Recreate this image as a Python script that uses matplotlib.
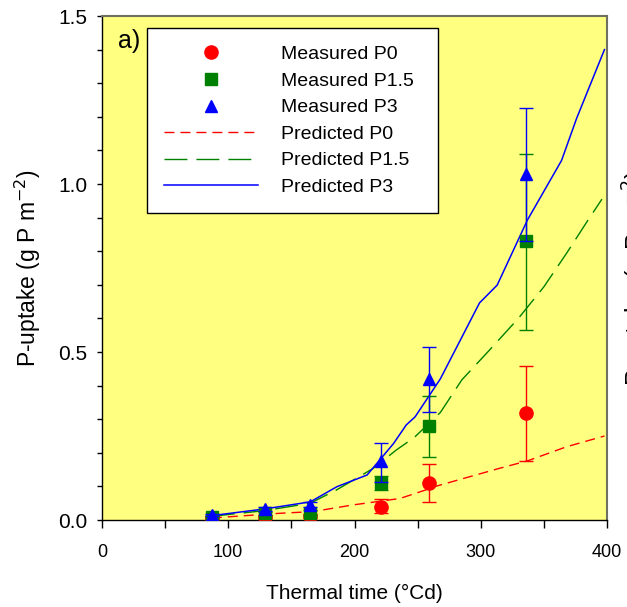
import matplotlib
matplotlib.use("Agg")
import matplotlib.pyplot as plt
from matplotlib.lines import Line2D
from matplotlib.ticker import MultipleLocator, FormatStrFormatter

plt.rcParams['font.family'] = ['Liberation Sans', 'DejaVu Sans']

# Measured data
meas_x = [87, 129, 165, 221, 259, 336]
p0_y = [0.006, 0.008, 0.012, 0.040, 0.110, 0.319]
p0_lo = [0.004, 0.004, 0.006, 0.021, 0.054, 0.176]
p0_hi = [0.008, 0.012, 0.018, 0.063, 0.166, 0.458]
p15_y = [0.010, 0.020, 0.022, 0.110, 0.280, 0.830]
p15_lo = [0.007, 0.015, 0.015, 0.090, 0.188, 0.565]
p15_hi = [0.013, 0.025, 0.030, 0.130, 0.370, 1.090]
p3_y = [0.015, 0.033, 0.045, 0.175, 0.420, 1.030]
p3_lo = [0.011, 0.027, 0.038, 0.113, 0.320, 0.830]
p3_hi = [0.019, 0.039, 0.055, 0.230, 0.515, 1.225]

# Predicted curves
pred0_x = [87, 141, 167, 199, 236, 256, 265, 315, 337, 368, 398]
pred0_y = [0.006, 0.020, 0.025, 0.045, 0.064, 0.089, 0.101, 0.154, 0.176, 0.218, 0.250]
pred15_x = [87, 129, 165, 186, 215, 233, 241, 248, 268, 285, 307, 330, 350, 368, 384, 396]
pred15_y = [0.011, 0.028, 0.050, 0.090, 0.154, 0.208, 0.229, 0.248, 0.320, 0.417, 0.506, 0.601, 0.694, 0.794, 0.887, 0.955]
pred3_x = [87, 129, 165, 186, 210, 231, 241, 248, 268, 299, 313, 337, 364, 376, 398]
pred3_y = [0.013, 0.033, 0.054, 0.099, 0.134, 0.228, 0.283, 0.307, 0.420, 0.646, 0.699, 0.893, 1.070, 1.196, 1.400]

labels = ['Measured P0', 'Measured P1.5', 'Measured P3',
          'Predicted P0', 'Predicted P1.5', 'Predicted P3']

RED, GREEN, BLUE = '#FF0000', '#008000', '#0000FF'
DASH0, DASH15 = (7.2, 4.3), (16.5, 6.5)

fig = plt.figure(figsize=(6.27, 6.07), dpi=100)
ax = fig.add_axes([102/627, 87/607, 505/627, 504/607])
ax.set_facecolor('#FFFF80')

ax.plot(pred0_x, pred0_y, color=RED, lw=1.0, dashes=DASH0, zorder=2)
ax.plot(pred15_x, pred15_y, color=GREEN, lw=1.0, dashes=DASH15, zorder=2)
ax.plot(pred3_x, pred3_y, color=BLUE, lw=1.1, zorder=2)

def err(y, lo, hi):
    return [[a - b for a, b in zip(y, lo)], [c - a for a, c in zip(y, hi)]]

ax.errorbar(meas_x, p0_y, yerr=err(p0_y, p0_lo, p0_hi), fmt='o', color=RED, ms=9.5,
            capsize=4.7, elinewidth=1, capthick=1, zorder=3)
ax.errorbar(meas_x, p15_y, yerr=err(p15_y, p15_lo, p15_hi), fmt='s', color=GREEN, ms=8,
            capsize=4.7, elinewidth=1, capthick=1, zorder=4)
ax.errorbar(meas_x, p3_y, yerr=err(p3_y, p3_lo, p3_hi), fmt='^', color=BLUE, ms=9,
            capsize=4.7, elinewidth=1, capthick=1, zorder=5)

ax.set_xlim(0, 400)
ax.set_ylim(0, 1.5)
ax.xaxis.set_major_locator(MultipleLocator(100))
ax.xaxis.set_minor_locator(MultipleLocator(50))
ax.yaxis.set_major_locator(MultipleLocator(0.5))
ax.yaxis.set_minor_locator(MultipleLocator(0.1))
ax.yaxis.set_major_formatter(FormatStrFormatter('%.1f'))
ax.tick_params(which='both', direction='out', top=False, right=False, width=1)
ax.tick_params(axis='x', which='both', length=5.5, labelsize=13, pad=12)
ax.tick_params(axis='y', which='both', length=3.6, labelsize=15, pad=7)
for s in ['left', 'bottom']:
    ax.spines[s].set_color('black')
    ax.spines[s].set_linewidth(1)
for s in ['top', 'right']:
    ax.spines[s].set_color('#707060')
    ax.spines[s].set_linewidth(1.5)

ax.set_xlabel('Thermal time (°Cd)', fontsize=15, labelpad=16)
ax.set_ylabel('P-uptake (g P m$^{-2}$)', fontsize=16.5, labelpad=11)

ax.text(0.032, 0.950, 'a)', transform=ax.transAxes, fontsize=18, va='center', ha='left')

handles = [
    Line2D([], [], ls='none', marker='o', color=RED, ms=9.5),
    Line2D([], [], ls='none', marker='s', color=GREEN, ms=8),
    Line2D([], [], ls='none', marker='^', color=BLUE, ms=9),
    Line2D([], [], color=RED, lw=1.0, dashes=DASH0),
    Line2D([], [], color=GREEN, lw=1.0, dashes=DASH15),
    Line2D([], [], color=BLUE, lw=1.1),
]
leg_w = 291/505
leg_h = 184/504
leg = ax.legend(handles, labels, loc='upper left',
                bbox_to_anchor=(0.089, 0.976 - leg_h, leg_w, leg_h), mode='expand',
                fontsize=14, frameon=True, fancybox=False, edgecolor='black', framealpha=1,
                handlelength=4.8, handletextpad=1.2, labelspacing=0.46, borderpad=0.9,
                borderaxespad=0)
leg.get_frame().set_linewidth(1)

# partially clipped label of the neighbouring panel
fig.text(621/627, 1 - 278/607, 'P-uptake (g P m$^{-2}$)', rotation=90, fontsize=18,
         ha='left', va='center')

fig.savefig('out.png', dpi=100)
